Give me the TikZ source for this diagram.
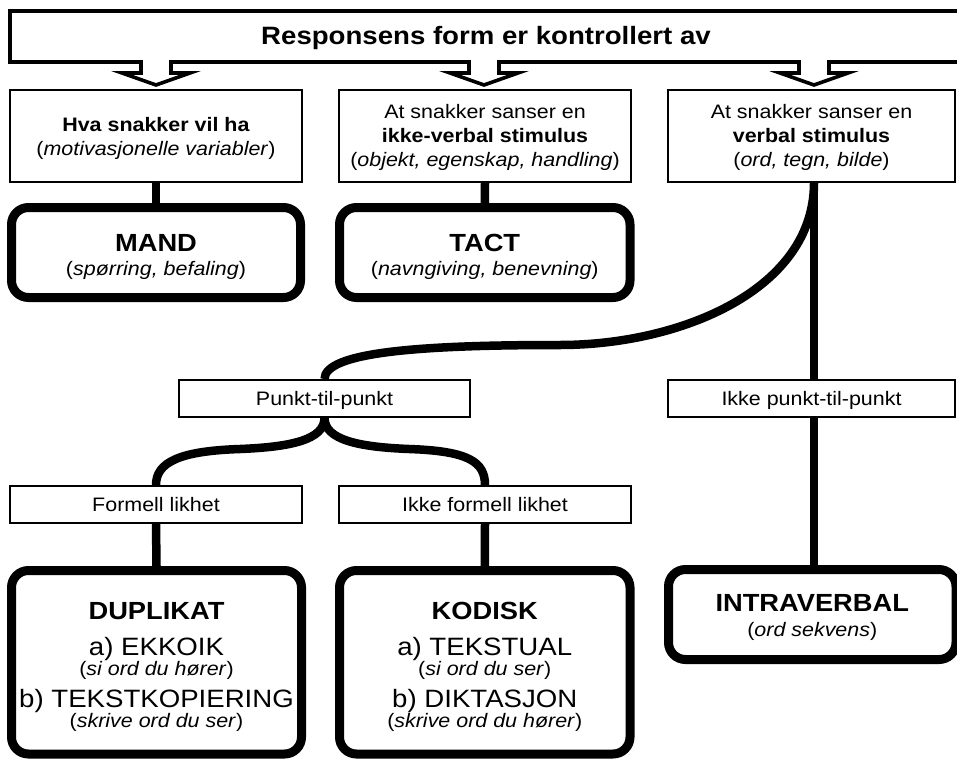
\documentclass[tikz,border=0pt]{standalone}
\usepackage{fontspec}
\setmainfont{Liberation Sans}[FakeStretch=1.1]
\usetikzlibrary{backgrounds}
\newcommand\szS{\fontsize{19.5}{24}\selectfont}
\newcommand\szH{\fontsize{24.8}{24}\selectfont\bfseries}
\newcommand\szI{\fontsize{25.1}{24}\selectfont}
\newcommand\stru[1]{\rule{0pt}{#1pt}}
\begin{document}
\begin{tikzpicture}[x=1pt,y=-1pt,
  banner/.style={draw, line width=3.6pt, fill=white, line join=miter},
  thinbox/.style={draw, line width=1.7pt, fill=white, inner sep=2pt, align=center, font=\szS},
  labelbox/.style={thinbox, text depth=0pt},
  bigbox/.style={draw, line width=9pt, rounded corners=17pt, fill=white, inner sep=2pt, align=center, font=\szS},
  link/.style={line width=8.5pt}
]
\useasboundingbox (0,0) rectangle (957,760);

% top banner with three block arrows
\draw[banner] (10,11) -- (985,11) -- (985,62)
  -- (829,62) -- (829,73) -- (848,73) -- (814,85) -- (780,73) -- (799,73) -- (799,62)
  -- (499,62) -- (499,73) -- (518,73) -- (484,85) -- (450,73) -- (469,73) -- (469,62)
  -- (171,62) -- (171,73) -- (190,73) -- (156,85) -- (122,73) -- (141,73) -- (141,62)
  -- (10,62) -- cycle;
\node[font=\fontsize{25.1}{26}\selectfont\bfseries, anchor=base, inner sep=0pt] (title) at (486,45) {Responsens form er kontrollert av};

% second row
\node[thinbox, minimum width=292pt, minimum height=92pt] (b1) at (156,136)
  {\stru{20}\textbf{Hva snakker vil ha}\\(\textit{motivasjonelle variabler})};
\node[thinbox, minimum width=292pt, minimum height=92pt] (b2) at (485,136)
  {\stru{18}At snakker sanser en\\\textbf{ikke-verbal stimulus}\\(\textit{objekt, egenskap, handling})};
\node[thinbox, minimum width=287pt, minimum height=92pt] (b3) at (811.5,136)
  {\stru{18}At snakker sanser en\\\textbf{verbal stimulus}\\(\textit{ord, tegn, bilde})};

% third row
\node[bigbox, minimum width=289pt, minimum height=90pt] (mand) at (156,252.5)
  {\stru{26.8}{\szH MAND}\\(\textit{spørring, befaling})};
\node[bigbox, minimum width=290.5pt, minimum height=90pt] (tact) at (484.75,252.5)
  {\stru{26.8}{\szH TACT}\\(\textit{navngiving, benevning})};

% middle labels
\node[labelbox, minimum width=291pt, minimum height=37pt] (punkt) at (324.5,398.5) {Punkt-til-punkt};
\node[labelbox, minimum width=287pt, minimum height=37pt] (ikke) at (811.5,398.5) {Ikke punkt-til-punkt};
\node[labelbox, minimum width=292pt, minimum height=37pt] (formell) at (156,504.5) {Formell likhet};
\node[labelbox, minimum width=292pt, minimum height=37pt] (ikkeformell) at (485,504.5) {Ikke formell likhet};

% bottom boxes
\node[bigbox, minimum width=290pt, minimum height=183.5pt] (dup) at (156.5,662.25)
  {\stru{25.6}{\szH DUPLIKAT}\\[12pt]{\szI a) EKKOIK}\\[-4pt](\textit{si ord du hører})\\[8pt]{\szI b) TEKSTKOPIERING}\\[-4pt](\textit{skrive ord du ser})};
\node[bigbox, minimum width=290.5pt, minimum height=183.5pt] (kod) at (484.75,662.25)
  {\stru{25.6}{\szH KODISK}\\[12pt]{\szI a) TEKSTUAL}\\[-4pt](\textit{si ord du ser})\\[8pt]{\szI b) DIKTASJON}\\[-4pt](\textit{skrive ord du hører})};
\node[bigbox, minimum width=287.5pt, minimum height=90pt] (intra) at (812.25,614.5)
  {\stru{23.4}{\szH INTRAVERBAL}\\[1pt](\textit{ord sekvens})};

\coordinate (vx) at (814,0);

\begin{pgfonlayer}{background}
\draw[link] (b1.south) -- (mand.north);
\draw[link] (b2.south) -- (tact.north);
\draw[link] (b3.south -| vx) -- (ikke.north -| vx);
\draw[link] (ikke.south -| vx) -- (intra.north -| vx);
\draw[link] (b3.south -| vx) .. controls (814,290) and (680,345) .. (560,345)
  .. controls (420,345) and (324.5,352) .. (punkt.north);
\draw[link] (punkt.south) .. controls (324.5,440) and (290,447) .. (240,449)
  .. controls (180,451) and (156,462) .. (formell.north);
\draw[link] (punkt.south) .. controls (324.5,440) and (359,447) .. (409,449)
  .. controls (469,451) and (485,462) .. (ikkeformell.north);
\draw[link] (formell.south) -- (dup.north);
\draw[link] (ikkeformell.south) -- (kod.north);
\end{pgfonlayer}
\end{tikzpicture}
\end{document}
